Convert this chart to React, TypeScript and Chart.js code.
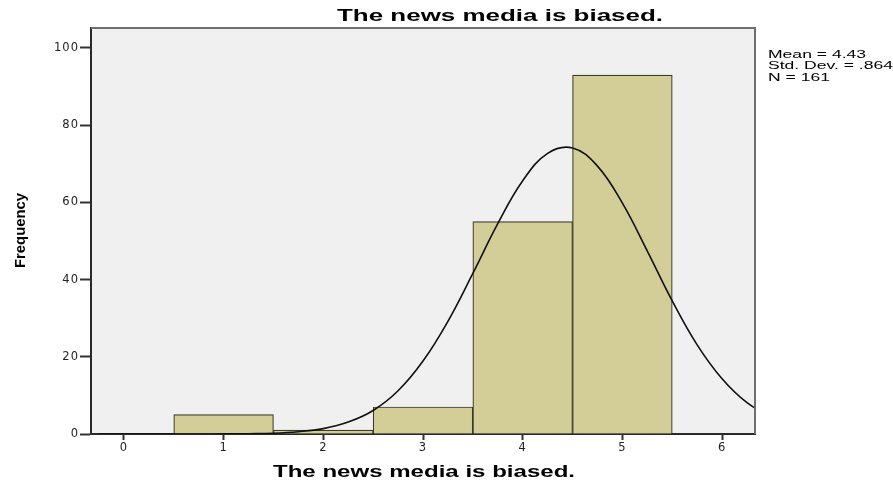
import { useEffect, useRef } from 'react';
import { Chart, registerables } from 'chart.js';

Chart.register(...registerables);

const TITLE = 'The news media is biased.';
const X_TITLE = 'The news media is biased.';
const Y_TITLE = 'Frequency';
const STATS = ['Mean = 4.43', 'Std. Dev. = .864', 'N = 161'];

const BIN_CENTERS = [1, 2, 3, 4, 5];
const FREQUENCIES = [5, 1, 7, 55, 93];

// normal curve
const CURVE_X = [-0.25, 0, 0.25, 0.5, 0.75, 1.0, 1.25, 1.5, 1.75, 2.0, 2.25, 2.5, 2.75, 3.0, 3.25, 3.5, 3.75, 4.0, 4.25, 4.5, 4.75, 5.0, 5.25, 5.5, 5.75, 6.0, 6.25, 6.5];
const CURVE_Y = [0, 0, 0, 0, 0, 0.03, 0.08, 0.2, 0.6, 1.4, 3.1, 6.1, 11.2, 18.9, 29.2, 41.6, 54.5, 65.6, 72.7, 74.1, 69.4, 59.8, 47.4, 34.5, 23.1, 14.3, 8.1, 4.3];

const Y_TICKS = [0, 20, 40, 60, 80, 100];
const X_TICKS = [0, 1, 2, 3, 4, 5, 6];

const FONT = '"Liberation Sans", Arial, sans-serif';
const TICK_FONT = '"DejaVu Sans", "Liberation Sans", sans-serif';

function drawStretched(
  ctx: CanvasRenderingContext2D,
  text: string,
  x: number,
  y: number,
  font: string,
  sx: number,
  align: CanvasTextAlign
) {
  ctx.save();
  ctx.font = font;
  ctx.translate(x, y);
  ctx.scale(sx, 1);
  ctx.textAlign = align;
  ctx.textBaseline = 'alphabetic';
  ctx.fillStyle = '#000';
  ctx.fillText(text, 0, 0);
  ctx.restore();
}

function widthScale(ctx: CanvasRenderingContext2D, text: string, font: string, target: number) {
  ctx.save();
  ctx.font = font;
  (ctx as any).letterSpacing = '0px';
  const w = ctx.measureText(text).width;
  ctx.restore();
  return target / w;
}

const decorPlugin = {
  id: 'decor',
  beforeDraw(chart: any) {
    const { ctx, chartArea: a } = chart;
    ctx.save();
    ctx.fillStyle = '#f0f0f0';
    ctx.fillRect(a.left, a.top, a.right - a.left, a.bottom - a.top);
    ctx.restore();
    (ctx as any).letterSpacing = '1px';
  },
  afterDatasetsDraw(chart: any) {
    const { ctx, chartArea: a } = chart;
    ctx.save();
    ctx.strokeStyle = '#6e6e6e';
    ctx.lineWidth = 2;
    ctx.beginPath();
    ctx.moveTo(a.left, a.top);
    ctx.lineTo(a.right, a.top);
    ctx.lineTo(a.right, a.bottom);
    ctx.stroke();
    ctx.restore();
  },
  afterDraw(chart: any) {
    const ctx: CanvasRenderingContext2D = chart.ctx;
    (ctx as any).letterSpacing = '0px';
    const big = `bold 17px ${FONT}`;
    drawStretched(ctx, TITLE, 500, 21, big, widthScale(ctx, TITLE, big, 326), 'center');
    drawStretched(ctx, X_TITLE, 424, 477, big, widthScale(ctx, X_TITLE, big, 302), 'center');

    const small = `10.5px ${FONT}`;
    const sSx = widthScale(ctx, STATS[1], small, 125);
    STATS.forEach((s, i) => drawStretched(ctx, s, 768, 57.5 + i * 11.8, small, sSx, 'left'));

    const yFont = `bold 15px ${FONT}`;
    const ySx = widthScale(ctx, Y_TITLE, yFont, 75);
    ctx.save();
    ctx.font = yFont;
    ctx.translate(24.5, 230.5);
    ctx.rotate(-Math.PI / 2);
    ctx.scale(ySx, 1);
    ctx.textAlign = 'center';
    ctx.textBaseline = 'alphabetic';
    ctx.fillStyle = '#000';
    ctx.fillText(Y_TITLE, 0, 0);
    ctx.restore();
  },
};

export default function App() {
  const ref = useRef<HTMLCanvasElement | null>(null);

  useEffect(() => {
    if (!ref.current) return;
    const chart = new Chart(ref.current, {
      type: 'bar',
      data: {
        datasets: [
          {
            type: 'line',
            data: CURVE_X.map((x, i) => ({ x, y: CURVE_Y[i] })),
            borderColor: '#111',
            borderWidth: 1.6,
            pointRadius: 0,
            fill: false,
            tension: 0.4,
            order: 0,
          } as any,
          {
            type: 'bar',
            data: BIN_CENTERS.map((x, i) => ({ x, y: FREQUENCIES[i] })),
            backgroundColor: '#d3ce98',
            borderColor: '#3b3a2c',
            borderWidth: 1.2,
            barPercentage: 1,
            categoryPercentage: 1,
            grouped: false,
            order: 1,
          } as any,
        ],
      },
      options: {
        responsive: false,
        animation: false,
        events: [],
        layout: { padding: { top: 28, right: 138, left: 0, bottom: 0 } },
        plugins: {
          legend: { display: false },
          tooltip: { enabled: false },
          title: { display: false },
        },
        scales: {
          x: {
            type: 'linear',
            min: -0.33,
            max: 6.33,
            offset: false,
            afterFit: (s: any) => {
              s.height = 48;
            },
            afterBuildTicks: (s: any) => {
              s.ticks = X_TICKS.map((v) => ({ value: v }));
            },
            grid: {
              display: true,
              offset: false,
              drawOnChartArea: false,
              drawTicks: true,
              tickLength: 6,
              tickColor: '#333',
              tickWidth: 2,
            },
            border: { display: true, color: '#2a2a2a', width: 2 },
            ticks: {
              color: '#222',
              font: { family: TICK_FONT, size: 11.5 },
              padding: 1,
              maxRotation: 0,
              autoSkip: false,
              callback: (v: any) => String(v),
            },
          },
          y: {
            type: 'linear',
            min: 0,
            max: 105.18,
            afterFit: (s: any) => {
              s.width = 91;
            },
            afterBuildTicks: (s: any) => {
              s.ticks = Y_TICKS.map((v) => ({ value: v }));
            },
            grid: {
              display: true,
              offset: false,
              drawOnChartArea: false,
              drawTicks: true,
              tickLength: 11,
              tickColor: '#333',
              tickWidth: 2,
            },
            border: { display: true, color: '#2a2a2a', width: 2 },
            ticks: {
              color: '#222',
              font: { family: TICK_FONT, size: 11.5 },
              padding: 1,
              autoSkip: false,
              callback: (v: any) => String(v),
            },
          },
        },
      } as any,
      plugins: [decorPlugin],
    });
    return () => chart.destroy();
  }, []);

  return (
    <div style={{ position: 'absolute', left: 0, top: 0, width: 893, height: 482, background: '#fff' }}>
      <canvas ref={ref} width={893} height={482} style={{ display: 'block', width: 893, height: 482 }} />
    </div>
  );
}
